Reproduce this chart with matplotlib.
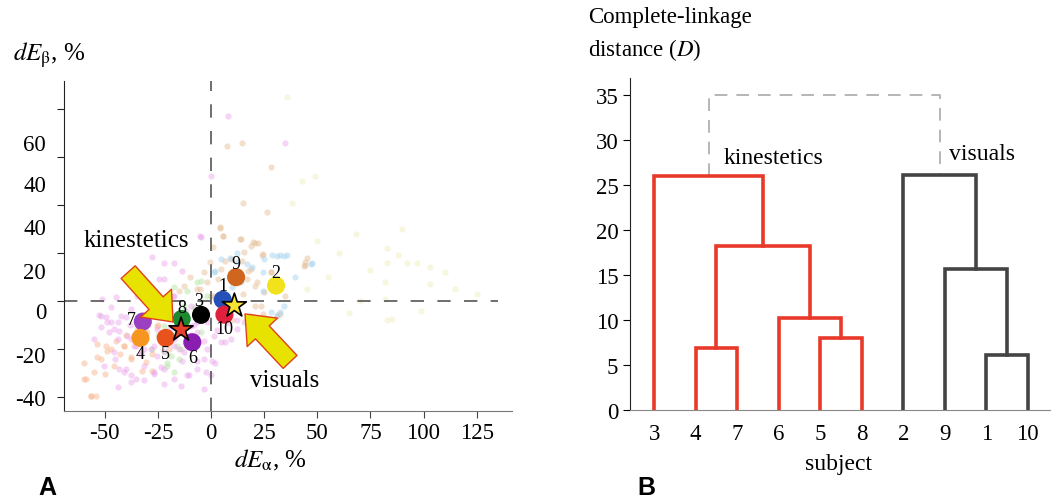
import matplotlib
matplotlib.use('Agg')
import matplotlib.pyplot as plt

plt.rcParams['font.family'] = 'Liberation Serif'
plt.rcParams['mathtext.fontset'] = 'stix'
plt.rcParams['axes.unicode_minus'] = False

# ---- panel A data: faint background points (dE_alpha, dE_beta) by colour group
pink_x = [8, 35, 0, -5, -52.7, -49.4, -47, -51.7, -48, -43.3, -40, -44, -37.6, -35.3, -43.3, -40, -37.6,
          -35.3, -44, -31.5, -26.8, -23.5, -22, -13.6, -10.3, -6.6, -2.4, -3.3, -25.4, -31.5, -26.8, -22,
          -17.4, -23.5, -18.8, -6.6, -3.3, -47, -37.6, -4.7, -27.7, -22, -17.4, -24.5, -13.6, -44.7, -51.3,
          6.6, 0.5, 2, -12, -8, -15, -20, -28, -33, -10, -5, 3, 8, -18, -30, -38, -55, -45, 12, -2,
          -51.9, -48.8, -45.6, -42.5, -44, -39.4, -36.2, -33, -28.4, -25.3, -31.5, -26.8, -22.1, -17.4,
          -11.1, -6.4, -3.3, -12.7, -17.4, -9.5, -6.4, -1.7, 1.4, 4.6, 9.3, 12.4, 15.5, 18.7, -23.7, -30,
          -34.7, -22.1, -17.4, -9.5, -40.9, -37.8, -45.6, -50.3, -14.3, -0.1]
pink_y = [77, 66, 52, 27, -6, -6.8, -8.9, -11, -13, -12.4, -6.8, -8.9, -15.8, -18.6, -28.3, -28.3, -31,
          -32.5, -36, -33, -30.4, -27.5, -34.6, -25, -31, -25, -29.7, -36.7, -11.7, -20, -18.6, -21,
          -18.6, -6, -4.6, -8.9, -16.5, -2.5, -3.3, 26.6, 18.3, 16, 16, 9, 12.6, 1.7, 0.8,
          -17, -25, -26, -4, -10, -20, -12, -2, -22, -14, -3, -12, -9, 2, 5, -10, -16, -24, -8, -20,
          -6.1, -8.9, -11.7, -6.1, -15.8, -14.4, -18.6, -21.4, -20, -22.8, -27, -29.7, -28.3, -32.5,
          -31, -28.3, -24.2, -21.4, -15.8, -10.3, -13, -8.9, -14.4, -17.2, -15.8, -11.7, -8.9, -6.1, -2, 5,
          2.2, 9.2, 2.2, -2, -29.7, -33.9, -21.4, -27, -35.3, -31]

peach_x = [7.5, 14.6, 28, 15, 26.5, 4, 5.5, 14, 20.7, 22, 1, 24, 45, 44, 4.2, 5.6, 13.6, 19.8, 24.5,
           -0.5, 6.6, 14.6, 17.4, 44.2, 20.7, 3.3, 17, 20.7, 24.5, 32.5, -5, -10, 0, 10, 15, -15, 28, 35,
           -6.4, -1.7, 1.4, -12.7, 4.6, 9.3, 15.5, 18.7, 21.8, 24.9, 28.1, 18.7, -3.3, 43.7, 23.4, 31.2]
peach_y = [64.6, 65.8, 56, 41, 37, 30.4, 27, 26, 24, 24, 22.5, 19, 18, 15, 30.8, 27, 25.8, 24.6, 19.6,
           16.4, 16.8, 16.8, 12.6, 16.2, 6.3, 9.2, 9.2, -2, -5.4, -5.4, 5, 10, 2, -8, 3, 4, 12, 2,
           5, 7.8, 2.2, 6.4, 13.3, 17.5, 20.3, 13.3, 7.8, 3.6, 12, 23, 12, 14.7, -2, -6.1]

orange_x = [-58.8, -56.4, -54, -50, -53.6, -45.6, -49, -43, -41, -37.6, -32.5, -30.6, -27.7, -44.7,
            -49.4, -53.6, -28, -20, -35, -40, -25, -60,
            -59.7, -55, -51.9, -47.2, -56.6, -40.9, -33, -37.8, -30, -25.3]
orange_y = [-32.5, -39.5, -39.5, -30.4, -23.5, -27, -21, -22, -18.6, -23.5, -29, -25.5, -29, -16.5,
            -18.6, -17.9, -22, -20, -12, -14, -10, -26,
            -32.5, -29.7, -24.2, -20, -39.5, -18.6, -15.8, -24.2, -13, -10.3]

green_x = [-28, -17.4, -20.7, -15, -11.8, -4.7, -22, -17.4, -11.3, -4.7, -8, -14, -2, -18, -25,
           -20.5, -19, -15.9, -22.1, -6.4, -12.7, -3.3]
green_y = [-20, -29.7, -26, -24, -18, -13, -10.4, 6, 4.3, 8.3, -3, -20, 2, -14, -14,
           -27, -22.8, -18.6, -21.4, 7.8, -2, -4.7]

blue_x = [28.7, 32.5, 35.7, 47.5, 39.5, 24.5, 19.3, 17, 2, 10, 9, 24.5, 31, 32.5, 4, 14, 12,
          1.4, 4.6, 12.4, 24.9, 31.2, 34.3, 46.9, 28.1, 34.3]
blue_y = [19, 19, 19, 16, 10, 4, 14, 15.4, 12.5, 5.8, 18, 12, -6, -4.8, 2, 8, 20,
          12, 17.5, 16.1, 17.5, 18.9, 18.9, 15.4, -4.7, -2]

yellow_x = [35.7, 43, 49, 38, 68, 83, 88, 83, 92, 97, 103, 75, 82, 103, 125, 82, 99, 83, 85,
            55, 60, 70, 50, 110, 90, 65, 45, 115]
yellow_y = [85, 50, 52, 41, 28, 22, 19, 16, 16, 16, 14, 13, 8, 7, 3, 1, -4, -8, -7.5,
            10, 20, 0, 25, 12, 30, -5, 5, 5]

# subjects: mean position
subj = ['1', '9', '2', '10', '3', '8', '7', '4', '5', '6']
subj_x = [5.5, 11.8, 30.6, 6.3, -4.7, -13.8, -32.1, -33.2, -21.3, -8.8]
subj_y = [0.5, 9.9, 6.4, -5.7, -5.8, -7.5, -8.6, -15.4, -15.4, -17.2]
subj_col = ['#2550b8', '#d0661e', '#f2e21c', '#e0203c', '#000000', '#1c8a30',
            '#9a40c0', '#f7961e', '#e8521c', '#8a1eb0']
subj_off = [(0, 10), (0, 9.5), (0, 9.5), (0, -10), (-1.5, 10), (0, 8), (-8, 1.5), (0, -11), (0, -11), (0, -11)]

# group centroids (stars)
star_x = [-14.1, 11]
star_y = [-12, -2]
star_col = ['#e8402a', '#f6e232']

yt_labels = ['60', '40', '40', '20', '0', '-20', '-40']
yt_pos = [65, 48, 30, 12, -5, -23, -41]

# ---- panel B data: dendrogram
leaves = ['3', '4', '7', '6', '5', '8', '2', '9', '1', '10']
# merges: (left, right, height, name)
merges = [('4', '7', 6.9, 'a'), ('5', '8', 8.0, 'b'), ('6', 'b', 10.3, 'c'), ('a', 'c', 18.2, 'd'),
          ('3', 'd', 26.0, 'kin'),
          ('1', '10', 6.1, 'e'), ('9', 'e', 15.7, 'f'), ('2', 'f', 26.2, 'vis')]
top_merge = ('kin', 'vis', 35.1)

fig = plt.figure(figsize=(10.59, 5.02), dpi=100)

# ================= panel A =================
ax = fig.add_axes([0.0604, 0.180, 0.423, 0.657])
pt = dict(s=20, linewidths=0, zorder=1)
ax.scatter(yellow_x, yellow_y, color='#f2efc4', alpha=0.55, **pt)
ax.scatter(peach_x, peach_y, color='#e6c09a', alpha=0.5, **pt)
ax.scatter(orange_x, orange_y, color='#f8b890', alpha=0.5, **pt)
ax.scatter(blue_x, blue_y, color='#a6d4f0', alpha=0.5, **pt)
ax.scatter(green_x, green_y, color='#b4e8a4', alpha=0.5, **pt)
ax.scatter(pink_x, pink_y, color='#eaa0ea', alpha=0.45, **pt)

ax.axhline(0, xmin=0, xmax=0.97, color='#555555', lw=1.2, ls=(0, (8, 8)), zorder=2)
ax.axvline(0, color='#555555', lw=1.2, ls=(0, (8, 8)), zorder=2)

ax.scatter(subj_x, subj_y, s=170, c=subj_col, linewidths=0, zorder=4)
for s, x, y, o in zip(subj, subj_x, subj_y, subj_off):
    ax.annotate(s, (x, y), xytext=o, textcoords='offset points', ha='center', va='center',
                fontsize=13, zorder=5)
ax.scatter(star_x, star_y, s=330, c=star_col, marker='*', edgecolors='black', linewidths=1.2, zorder=6)

arrow = dict(arrowstyle='simple,head_length=1.4,head_width=2.3,tail_width=1.05', mutation_scale=13,
             fc='#e8e200', ec='#e0401c', lw=1.0, shrinkA=0, shrinkB=0)
ax.annotate('', xy=(-17.9, -8.75), xytext=(-39, 12), arrowprops=arrow, zorder=7)
ax.annotate('', xy=(16, -5.4), xytext=(37.2, -25.4), arrowprops=arrow, zorder=7)
ax.text(-35.3, 25.4, 'kinestetics', fontsize=18, ha='center', va='center')
ax.text(34.8, -33, 'visuals', fontsize=18, ha='center', va='center')

ax.set_xlim(-69.2, 141.6)
ax.set_ylim(-45.7, 91.7)
ax.set_xticks([-50, -25, 0, 25, 50, 75, 100, 125])
ax.set_yticks([80, 60, 40, 20, 0, -20, -40])
ax.set_yticklabels([])
for lab, y in zip(yt_labels, yt_pos):
    ax.text(-0.04, y, lab, transform=ax.get_yaxis_transform(), ha='right', va='center', fontsize=16.5)
ax.tick_params(axis='x', labelsize=16.5, length=5, color='#444444')
ax.tick_params(axis='y', length=5, color='#222222')
for side in ['top', 'right']:
    ax.spines[side].set_visible(False)
ax.spines['left'].set_color('#222222')
ax.spines['bottom'].set_color('#777777')
ax.set_xlabel(r'$dE_{\mathrm{\alpha}}$, %', fontsize=18)
ax.xaxis.set_label_coords(0.46, -0.11)
fig.text(0.012, 0.86, r'$dE_{\mathrm{\beta}}$, %', fontsize=18, ha='left', va='bottom')
fig.text(0.036, 0.014, 'A', fontsize=18, fontweight='bold', family='Liberation Sans')

# ================= panel B =================
bx = fig.add_axes([0.595, 0.181, 0.3966, 0.661])
pos = {name: i + 1 for i, name in enumerate(leaves)}
hgt = {name: 0.0 for name in leaves}
for left, right, h, name in merges:
    col = '#e8392a' if name in ('a', 'b', 'c', 'd', 'kin') else '#444444'
    x1, x2 = pos[left], pos[right]
    bx.plot([x1, x1, x2, x2], [hgt[left], h, h, hgt[right]], color=col, lw=2.6,
            solid_joinstyle='miter', zorder=3)
    pos[name] = (x1 + x2) / 2
    hgt[name] = h
l, r, h = top_merge
bx.plot([pos[l], pos[l], pos[r], pos[r]], [hgt[l], h, h, hgt[r]], color='#b0b0b0', lw=1.3,
        ls=(0, (7, 5)), zorder=2)

bx.text(3.88, 28.1, 'kinestetics', fontsize=17, ha='center', va='center')
bx.text(8.9, 28.5, 'visuals', fontsize=17, ha='center', va='center')

bx.set_xlim(0.42, 10.54)
bx.set_ylim(0, 36.9)
bx.set_xticks(range(1, len(leaves) + 1))
bx.set_xticklabels(leaves)
bx.set_yticks([0, 5, 10, 15, 20, 25, 30, 35])
bx.tick_params(axis='x', length=0, labelsize=16.5, pad=9)
bx.tick_params(axis='y', length=5, labelsize=16.5)
for side in ['top', 'right']:
    bx.spines[side].set_visible(False)
bx.spines['left'].set_color('#222222')
bx.spines['bottom'].set_color('#888888')
bx.set_xlabel('subject', fontsize=17)
bx.xaxis.set_label_coords(0.495, -0.13)
fig.text(0.555, 0.965, 'Complete-linkage', fontsize=16.5, ha='left', va='center')
fig.text(0.555, 0.9, r'distance ($\it{D}$)', fontsize=16.5, ha='left', va='center')
fig.text(0.602, 0.014, 'B', fontsize=18, fontweight='bold', family='Liberation Sans')

fig.savefig('out.png', dpi=100)
